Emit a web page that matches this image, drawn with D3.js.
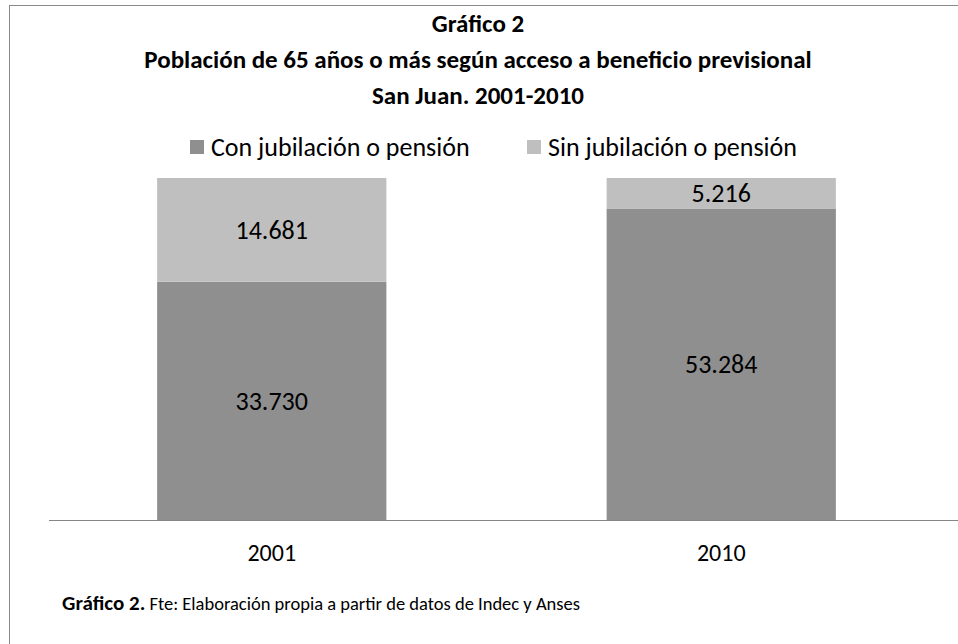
<!DOCTYPE html>
<html>
<head>
<meta charset="utf-8">
<script src="https://cdn.jsdelivr.net/npm/d3@7"></script>
<style>
  body { margin: 0; background: #fff; }
  text { font-family: Carlito, Calibri, Lato, "Open Sans", sans-serif; }
</style>
</head>
<body>
<div id="chart"></div>
<script>
// data
const years = ['2001', '2010'];
const conJub = [33730, 53284];
const sinJub = [14681, 5216];
const seriesNames = ['Con jubilación o pensión', 'Sin jubilación o pensión'];
const seriesColors = ['#8f8f8f', '#bfbfbf'];

const w = 958;
const h = 644;
const plot = { left: 47, right: 946, top: 178, bottom: 520 };

const svg = d3.select('#chart')
              .append('svg')
              .attr('width', w)
              .attr('height', h);

// chart frame
svg.append('rect')
   .attr('x', 9.5)
   .attr('y', 5.5)
   .attr('width', w + 20)
   .attr('height', h + 20)
   .attr('fill', 'none')
   .attr('stroke', '#8a8a8a')
   .attr('stroke-width', 1);

// titles
const titles = ['Gráfico 2',
                'Población de 65 años o más según acceso a beneficio previsional',
                'San Juan. 2001-2010'];
svg.selectAll('text.title')
   .data(titles)
   .enter()
   .append('text')
   .attr('class', 'title')
   .attr('x', 478)
   .attr('y', (d, i) => 32 + i * 36)
   .attr('text-anchor', 'middle')
   .style('font-size', '25px')
   .style('font-weight', 'bold')
   .text((d) => d);

// 100% stacked values
const rows = years.map((y, i) => {
  const total = conJub[i] + sinJub[i];
  return { year: y, con: conJub[i], sin: sinJub[i], total: total };
});

const xScale = d3.scaleBand()
                 .domain(years)
                 .range([plot.left, plot.right])
                 .paddingInner(0.49)
                 .paddingOuter(0.245);

const yScale = d3.scaleLinear()
                 .domain([0, 1])
                 .range([plot.bottom, plot.top]);

const stack = d3.stack()
                .keys(['con', 'sin'])
                .offset(d3.stackOffsetExpand);
const layers = stack(rows);

const g = svg.selectAll('g.layer')
             .data(layers)
             .enter()
             .append('g')
             .attr('class', 'layer')
             .attr('fill', (d, i) => seriesColors[i]);

g.selectAll('rect')
 .data((d) => d.map((p) => ({ p: p, key: d.key })))
 .enter()
 .append('rect')
 .attr('x', (d) => xScale(d.p.data.year))
 .attr('y', (d) => yScale(d.p[1]))
 .attr('width', xScale.bandwidth())
 .attr('height', (d) => yScale(d.p[0]) - yScale(d.p[1]));

// data labels
const fmt = (v) => d3.format(',')(v).replace(/,/g, '.');
g.selectAll('text')
 .data((d) => d.map((p) => ({ p: p, key: d.key })))
 .enter()
 .append('text')
 .attr('x', (d) => xScale(d.p.data.year) + xScale.bandwidth() / 2)
 .attr('y', (d) => yScale((d.p[0] + d.p[1]) / 2))
 .attr('dy', '0.35em')
 .attr('text-anchor', 'middle')
 .attr('fill', '#000')
 .style('font-size', '26px')
 .text((d) => fmt(d.p.data[d.key]));

// category axis
const xAxis = svg.append('g')
                 .attr('transform', 'translate(0,' + plot.bottom + ')')
                 .call(d3.axisBottom(xScale).tickSize(0).tickPadding(24));
xAxis.select('.domain')
     .attr('d', 'M' + (plot.left + 2) + ',0.5H' + w)
     .attr('stroke', '#868686');
xAxis.selectAll('text')
     .style('font-size', '24px')
     .style('font-family', 'Carlito, Calibri, Lato, "Open Sans", sans-serif')
     .attr('fill', '#000');

// legend
const legendX = [190, 527];
const legend = svg.selectAll('g.legend')
                  .data(seriesNames)
                  .enter()
                  .append('g')
                  .attr('class', 'legend')
                  .attr('transform', (d, i) => 'translate(' + legendX[i] + ',147)');
legend.append('rect')
      .attr('x', 0)
      .attr('y', -7)
      .attr('width', 14)
      .attr('height', 14)
      .attr('fill', (d, i) => seriesColors[i]);
legend.append('text')
      .attr('x', 21)
      .attr('y', 0)
      .attr('dy', '0.35em')
      .style('font-size', '26px')
      .text((d) => d);

// footer note
const note = svg.append('text')
                .attr('x', 62)
                .attr('y', 610)
                .style('font-size', '21px');
note.append('tspan')
    .style('font-weight', 'bold')
    .text('Gráfico 2.');
note.append('tspan')
    .style('font-size', '18.5px')
    .text(' Fte: Elaboración propia a partir de datos de Indec y Anses');
</script>
</body>
</html>
